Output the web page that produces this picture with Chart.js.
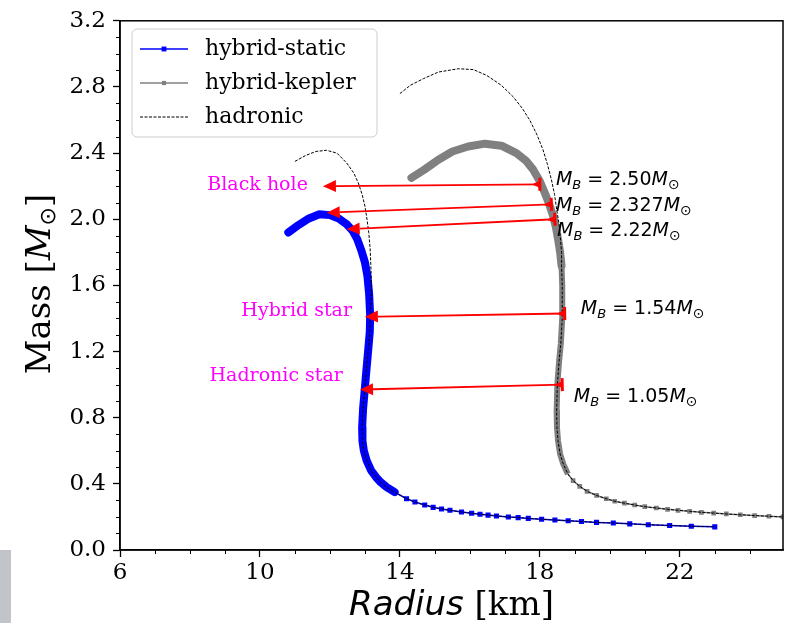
<!DOCTYPE html>
<html>
<head>
<meta charset="utf-8">
<script src="https://cdn.jsdelivr.net/npm/chart.js@4.4.1/dist/chart.umd.min.js"></script>
<style>
  html, body { margin: 0; padding: 0; background: #fff; }
  #wrap { position: relative; width: 791px; height: 623px; }
  #strip { position: absolute; left: 0; top: 550px; width: 11px; height: 73px; background: #c1c5c9; }
</style>
</head>
<body>
<div id="wrap">
  <canvas id="mr" width="791" height="623"></canvas>
  <div id="strip"></div>
</div>
<script>
// tick values
const radiusTicks = [6, 10, 14, 18, 22];
const massTicks = [0, 0.4, 0.8, 1.2, 1.6, 2.0, 2.4, 2.8, 3.2];

// hybrid-static: dense branch (max mass + vertical part) and the low-mass tail
const staticCapR = [10.81, 11.1, 11.4, 11.7, 12.0, 12.25, 12.48, 12.65, 12.78, 12.9, 13.0, 13.07, 13.12, 13.15, 13.14, 13.09, 13.04, 13.0, 12.95, 12.92, 12.93, 12.97, 13.05, 13.18, 13.32, 13.45, 13.62, 13.85];
const staticCapM = [1.92, 1.965, 2.005, 2.03, 2.025, 2.005, 1.97, 1.93, 1.88, 1.81, 1.74, 1.66, 1.55, 1.42, 1.32, 1.2, 1.08, 0.98, 0.86, 0.74, 0.66, 0.6, 0.54, 0.48, 0.44, 0.41, 0.38, 0.35];
const staticTailR = [14.19, 14.43, 14.71, 14.95, 15.19, 15.43, 15.76, 16.05, 16.29, 16.52, 16.76, 17.1, 17.38, 17.67, 18.05, 18.43, 18.81, 19.19, 19.62, 20.1, 20.57, 21.1, 21.71, 22.33, 23.0];
const staticTailM = [0.31, 0.29, 0.272, 0.258, 0.248, 0.24, 0.23, 0.222, 0.216, 0.211, 0.206, 0.2, 0.196, 0.191, 0.186, 0.181, 0.177, 0.172, 0.167, 0.163, 0.158, 0.153, 0.148, 0.144, 0.14];

// hybrid-kepler: arc, vertical stem, tail
const keplerCapR = [14.33, 14.7, 15.1, 15.5, 15.95, 16.43, 16.9, 17.33, 17.6, 17.81, 18.0, 18.14, 18.27, 18.38, 18.46, 18.52, 18.58, 18.62];
const keplerCapM = [2.25, 2.3, 2.36, 2.41, 2.44, 2.457, 2.445, 2.4, 2.355, 2.3, 2.23, 2.16, 2.09, 2.02, 1.95, 1.88, 1.8, 1.72];
const keplerStemR = [18.62, 18.64, 18.64, 18.6, 18.55, 18.5, 18.48, 18.49, 18.52, 18.58, 18.67, 18.8];
const keplerStemM = [1.72, 1.6, 1.4, 1.25, 1.14, 1.0, 0.84, 0.74, 0.66, 0.58, 0.52, 0.46];
const keplerTailR = [18.95, 19.14, 19.35, 19.62, 19.9, 20.14, 20.42, 20.71, 21.0, 21.33, 21.65, 21.95, 22.28, 22.62, 22.97, 23.33, 23.73, 24.14, 24.55, 24.95];
const keplerTailM = [0.42, 0.385, 0.355, 0.33, 0.31, 0.295, 0.283, 0.272, 0.262, 0.254, 0.246, 0.24, 0.234, 0.228, 0.223, 0.218, 0.213, 0.208, 0.204, 0.2];

// hadronic branches above the point where they join the hybrid curves
const hadStaticR = [11.0, 11.3, 11.6, 11.9, 12.2, 12.48, 12.68, 12.81, 12.92, 13.0, 13.06, 13.11, 13.15, 13.17, 13.19];
const hadStaticM = [2.35, 2.385, 2.41, 2.417, 2.4, 2.34, 2.28, 2.22, 2.15, 2.08, 2.0, 1.92, 1.82, 1.72, 1.58];
const hadKeplerR = [14.0, 14.3, 14.67, 15.1, 15.67, 16.1, 16.48, 16.9, 17.24, 17.5, 17.71, 17.92, 18.09, 18.22, 18.33, 18.42, 18.48, 18.55, 18.59, 18.62];
const hadKeplerM = [2.76, 2.81, 2.85, 2.89, 2.91, 2.905, 2.87, 2.81, 2.74, 2.67, 2.6, 2.51, 2.42, 2.33, 2.24, 2.15, 2.06, 1.97, 1.88, 1.8];

// transition arrows: from the rotating star (tail) to the static one (tip)
const arrowTailR = [18.0, 18.33, 18.43, 18.71, 18.64];
const arrowTailM = [2.211, 2.09, 2.0, 1.43, 1.0];
const arrowTipR = [11.8, 11.91, 12.48, 13.0, 12.86];
const arrowTipM = [2.2, 2.04, 1.94, 1.41, 0.97];
const baryonMass = ['2.50', '2.327', '2.22', '1.54', '1.05'];

// text anchors in data units
const mbLabelAt = [[18.46, 2.25], [18.46, 2.095], [18.49, 1.94], [19.17, 1.47], [18.97, 0.935]];
const fateLabels = [
  { text: 'Black hole', r: 11.37, m: 2.205 },
  { text: 'Hybrid star', r: 12.63, m: 1.445 },
  { text: 'Hadronic star', r: 12.37, m: 1.05 }
];

const SERIF = '"DejaVu Serif", serif';
const SANS = '"DejaVu Sans", sans-serif';

function pts(R, M) {
  return R.map((r, i) => ({ x: r, y: M[i] }));
}
const hadStaticFull = pts(
  hadStaticR.concat(staticCapR.slice(13), staticTailR),
  hadStaticM.concat(staticCapM.slice(13), staticTailM)
);
const hadKeplerFull = pts(
  hadKeplerR.concat(keplerStemR, keplerTailR),
  hadKeplerM.concat(keplerStemM, keplerTailM)
);
// tails start at the last point of the preceding branch so the line stays joined
const staticTail = pts([staticCapR.at(-1)].concat(staticTailR), [staticCapM.at(-1)].concat(staticTailM));
const keplerTail = pts([keplerStemR.at(-1)].concat(keplerTailR), [keplerStemM.at(-1)].concat(keplerTailM));

const dashed = { borderColor: '#000', borderWidth: 1, borderDash: [3, 1.5], pointRadius: 0, order: 0 };

// draw mixed-font text runs, each part {t, font, dy}
function runsWidth(ctx, parts) {
  let w = 0;
  parts.forEach(p => { ctx.font = p.font; w += ctx.measureText(p.t).width; });
  return w;
}
function drawRuns(ctx, parts, x, y) {
  parts.forEach(p => {
    ctx.font = p.font;
    ctx.fillText(p.t, x, y + (p.dy || 0));
    x += ctx.measureText(p.t).width;
  });
}

const extras = {
  id: 'extras',
  afterDatasetsDraw(chart) {
    const { ctx, scales: { x, y } } = chart;
    ctx.save();
    ctx.strokeStyle = '#ff0000';
    ctx.fillStyle = '#ff0000';
    for (let i = 0; i < arrowTipR.length; i++) {
      const x0 = x.getPixelForValue(arrowTailR[i]), y0 = y.getPixelForValue(arrowTailM[i]);
      const x1 = x.getPixelForValue(arrowTipR[i]), y1 = y.getPixelForValue(arrowTipM[i]);
      const a = Math.atan2(y1 - y0, x1 - x0);
      const ux = Math.cos(a), uy = Math.sin(a);
      const head = 13, half = 6;
      ctx.lineWidth = 1.8;
      ctx.beginPath();
      ctx.moveTo(x0, y0);
      ctx.lineTo(x1 - ux * head, y1 - uy * head);
      ctx.stroke();
      // big head at the tip
      ctx.beginPath();
      ctx.moveTo(x1, y1);
      ctx.lineTo(x1 - ux * head - uy * half, y1 - uy * head + ux * half);
      ctx.lineTo(x1 - ux * head + uy * half, y1 - uy * head - ux * half);
      ctx.closePath();
      ctx.fill();
      // small wedge and bar at the start
      ctx.beginPath();
      ctx.moveTo(x0 + ux * 8, y0 + uy * 8);
      ctx.lineTo(x0 - uy * 3.5, y0 + ux * 3.5);
      ctx.lineTo(x0 + uy * 3.5, y0 - ux * 3.5);
      ctx.closePath();
      ctx.fill();
      ctx.lineWidth = 3;
      ctx.beginPath();
      ctx.moveTo(x0 - uy * 6.5, y0 + ux * 6.5);
      ctx.lineTo(x0 + uy * 6.5, y0 - ux * 6.5);
      ctx.stroke();
    }
    ctx.restore();
  },
  afterDraw(chart) {
    const { ctx, chartArea: ca, scales: { x, y } } = chart;
    ctx.save();

    // frame
    ctx.strokeStyle = '#000';
    ctx.lineWidth = 1.5;
    ctx.strokeRect(ca.left, ca.top, ca.right - ca.left, ca.bottom - ca.top);

    // minor ticks
    ctx.lineWidth = 1;
    ctx.beginPath();
    for (let r = 7; r < 25; r++) {
      if ((r - 6) % 4 === 0) continue;
      const px = Math.round(x.getPixelForValue(r)) + 0.5;
      ctx.moveTo(px, ca.bottom);
      ctx.lineTo(px, ca.bottom + 4);
    }
    for (let k = 1; k < 32; k++) {
      if (k % 4 === 0) continue;
      const py = Math.round(y.getPixelForValue(k / 10)) + 0.5;
      ctx.moveTo(ca.left, py);
      ctx.lineTo(ca.left - 4, py);
    }
    ctx.stroke();

    // axis titles
    ctx.fillStyle = '#000';
    ctx.textBaseline = 'alphabetic';
    const xt = [
      { t: 'Radius', font: 'italic 34px ' + SANS },
      { t: ' [km]', font: '34px ' + SERIF }
    ];
    drawRuns(ctx, xt, (ca.left + ca.right) / 2 - runsWidth(ctx, xt) / 2, 615);
    const yt = [
      { t: 'Mass [', font: '34px ' + SERIF },
      { t: 'M', font: 'italic 34px ' + SERIF },
      { t: '\u2299', font: '22px ' + SANS, dy: 5 },
      { t: ']', font: '34px ' + SERIF }
    ];
    ctx.save();
    ctx.translate(50, 284);
    ctx.rotate(-Math.PI / 2);
    drawRuns(ctx, yt, -runsWidth(ctx, yt) / 2, 0);
    ctx.restore();

    // fate labels
    ctx.fillStyle = '#ff00ff';
    ctx.font = '19px ' + SERIF;
    ctx.textAlign = 'right';
    ctx.textBaseline = 'middle';
    fateLabels.forEach(l => ctx.fillText(l.text, x.getPixelForValue(l.r), y.getPixelForValue(l.m)));

    // baryon mass labels
    ctx.fillStyle = '#000';
    ctx.textAlign = 'left';
    ctx.textBaseline = 'alphabetic';
    baryonMass.forEach((v, i) => {
      const px = x.getPixelForValue(mbLabelAt[i][0]);
      const py = y.getPixelForValue(mbLabelAt[i][1]) + 7;
      drawRuns(ctx, [
        { t: 'M', font: 'italic 19px ' + SANS },
        { t: 'B', font: 'italic 13px ' + SANS, dy: 4 },
        { t: ' = ', font: '19px ' + SANS },
        { t: v, font: '19px ' + SANS },
        { t: 'M', font: 'italic 19px ' + SANS },
        { t: '\u2299', font: '14px ' + SANS, dy: 4 }
      ], px, py);
    });

    // legend
    const lx = 132, ly = 29, lw = 245, lh = 108, rad = 5;
    ctx.beginPath();
    ctx.moveTo(lx + rad, ly);
    ctx.arcTo(lx + lw, ly, lx + lw, ly + lh, rad);
    ctx.arcTo(lx + lw, ly + lh, lx, ly + lh, rad);
    ctx.arcTo(lx, ly + lh, lx, ly, rad);
    ctx.arcTo(lx, ly, lx + lw, ly, rad);
    ctx.closePath();
    ctx.fillStyle = 'rgba(255,255,255,0.9)';
    ctx.fill();
    ctx.strokeStyle = '#cccccc';
    ctx.lineWidth = 1;
    ctx.stroke();
    const entries = [
      { label: 'hybrid-static', color: '#0000ff', marker: 3.5 },
      { label: 'hybrid-kepler', color: '#808080', marker: 3 },
      { label: 'hadronic', color: '#000', dash: [3, 1.5] }
    ];
    entries.forEach((e, i) => {
      const ey = 49 + i * 34;
      ctx.strokeStyle = e.color;
      ctx.lineWidth = e.dash ? 1 : 1.5;
      ctx.setLineDash(e.dash || []);
      ctx.beginPath();
      ctx.moveTo(140, ey);
      ctx.lineTo(188, ey);
      ctx.stroke();
      ctx.setLineDash([]);
      if (e.marker) {
        ctx.fillStyle = e.color;
        ctx.fillRect(164 - e.marker * 0.7, ey - e.marker * 0.7, e.marker * 1.4, e.marker * 1.4);
      }
      ctx.fillStyle = '#000';
      ctx.font = '22px ' + SERIF;
      ctx.textBaseline = 'middle';
      ctx.fillText(e.label, 205, ey);
    });

    ctx.restore();
  }
};

const tickFont = { family: SERIF, size: 23 };

new Chart(document.getElementById('mr'), {
  type: 'line',
  data: {
    datasets: [
      Object.assign({ label: 'hadronic', data: hadStaticFull }, dashed),
      Object.assign({ label: 'hadronic', data: hadKeplerFull }, dashed),
      { label: 'hybrid-kepler', data: pts(keplerCapR, keplerCapM), borderColor: '#808080', borderWidth: 8,
        borderCapStyle: 'round', borderJoinStyle: 'round', pointRadius: 0, order: 1 },
      { label: 'hybrid-kepler', data: pts(keplerStemR, keplerStemM), borderColor: '#808080', borderWidth: 6,
        borderJoinStyle: 'round', pointRadius: 0, order: 1 },
      { label: 'hybrid-kepler', data: keplerTail, borderColor: '#808080', borderWidth: 1.5,
        pointStyle: 'rect', pointRadius: c => c.dataIndex === 0 ? 0 : 3.3, pointBackgroundColor: '#808080',
        pointBorderWidth: 0, order: 1 },
      { label: 'hybrid-static', data: pts(staticCapR, staticCapM), borderColor: '#0000ff', borderWidth: 8,
        borderCapStyle: 'round', borderJoinStyle: 'round', pointRadius: 0, order: 2 },
      { label: 'hybrid-static', data: staticTail, borderColor: '#0000ff', borderWidth: 1.5,
        pointStyle: 'rect', pointRadius: c => c.dataIndex === 0 ? 0 : 3.6, pointBackgroundColor: '#0000ff',
        pointBorderWidth: 0, order: 2 }
    ]
  },
  options: {
    responsive: false,
    animation: false,
    events: [],
    layout: { padding: { top: 17, right: 8, left: 0, bottom: 0 } },
    plugins: { legend: { display: false }, tooltip: { enabled: false } },
    scales: {
      x: {
        type: 'linear', min: 6, max: 24.95,
        afterBuildTicks: s => { s.ticks = radiusTicks.map(v => ({ value: v })); },
        afterFit: s => { s.height = 73; },
        ticks: { font: tickFont, color: '#000', padding: 2, maxRotation: 0, autoSkip: false, callback: v => String(v) },
        grid: { drawOnChartArea: false, drawTicks: true, tickLength: 7, tickWidth: 1.3, tickColor: '#000' },
        border: { display: true, color: '#000', width: 1.5 }
      },
      y: {
        type: 'linear', min: 0, max: 3.2,
        afterBuildTicks: s => { s.ticks = massTicks.map(v => ({ value: v })); },
        afterFit: s => { s.width = 120; },
        ticks: { font: tickFont, color: '#000', padding: 7, autoSkip: false, callback: v => v.toFixed(1) },
        grid: { drawOnChartArea: false, drawTicks: true, tickLength: 7, tickWidth: 1.3, tickColor: '#000' },
        border: { display: true, color: '#000', width: 1.5 }
      }
    }
  },
  plugins: [extras]
});
</script>
</body>
</html>
